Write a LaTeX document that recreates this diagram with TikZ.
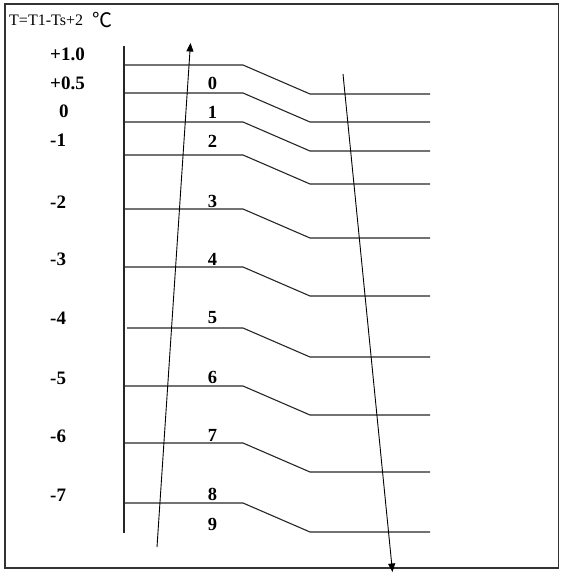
\documentclass[tikz,border=0pt]{standalone}
\usepackage{fontspec}
\setmainfont{Liberation Serif}
\newfontfamily\cjkfont{Noto Sans CJK SC}
\usetikzlibrary{arrows.meta}
\begin{document}
\begin{tikzpicture}[x=1pt,y=-1pt,
  ln/.style={line width=1.1pt,draw=black!85},
  arr/.style={line width=0.9pt,draw=black,-{Triangle[length=8.5pt,width=7pt]}},
  lab/.style={font=\fontsize{19}{21}\selectfont\bfseries,inner sep=0pt},
  num/.style={font=\fontsize{18.5}{20}\selectfont\bfseries,inner sep=0pt},
  ttl/.style={font=\fontsize{16}{18}\selectfont,inner sep=0pt,anchor=west}]
\useasboundingbox (0,0) rectangle (560,573);
\draw[line width=1.4pt,draw=black!80] (5,4) rectangle (558.5,568);
% title
\node[ttl] (title) at (9,20) {T=T1-Ts+2};
\node[inner sep=0pt,anchor=west,font=\cjkfont\fontsize{20}{22}\selectfont] (deg) at (92,20) {℃};
% axis
\coordinate (axt) at (124,46);
\coordinate (axb) at (124,533);
\draw[ln] (axt) -- (axb);
% step lines
\foreach \yl/\xs/\i in {65/124/a,93/124/b,122/124/c,155/124/d,209/124/e,267/124/f,328/127/g,386/124/h,443/124/i,503/124/j}{
  \coordinate (s\i) at (\xs,\yl);
  \coordinate (k\i) at (243,\yl);
  \coordinate (m\i) at (310,\yl+29);
  \coordinate (e\i) at (430,\yl+29);
  \draw[ln] (s\i) -- (k\i) -- (m\i) -- (e\i);
}
% left labels
\foreach \t/\yy/\xx/\n in {+1.0/54/50/l1,+0.5/83/50/l2,0/111.5/59/l3,-1/140/50/l4,-2/202/50/l5,-3/259/50/l6,-4/318.5/50/l7,-5/378/50/l8,-6/436/50/l9,-7/495/50/l10}{
  \node[lab,anchor=west] (\n) at (\xx,\yy) {\t};
}
% step numbers
\foreach \t/\yy in {0/83,1/112.5,2/141.5,3/201,4/259,5/318,6/377,7/435,8/494,9/524}{
  \node[num] (n\t) at (212.5,\yy) {\t};
}
% arrows
\coordinate (ua) at (157,547);
\coordinate (ub) at (190.5,43);
\draw[arr] (ua) -- (ub);
\coordinate (da) at (343,74);
\coordinate (db) at (392.5,572);
\draw[arr] (da) -- (db);
\end{tikzpicture}
\end{document}
